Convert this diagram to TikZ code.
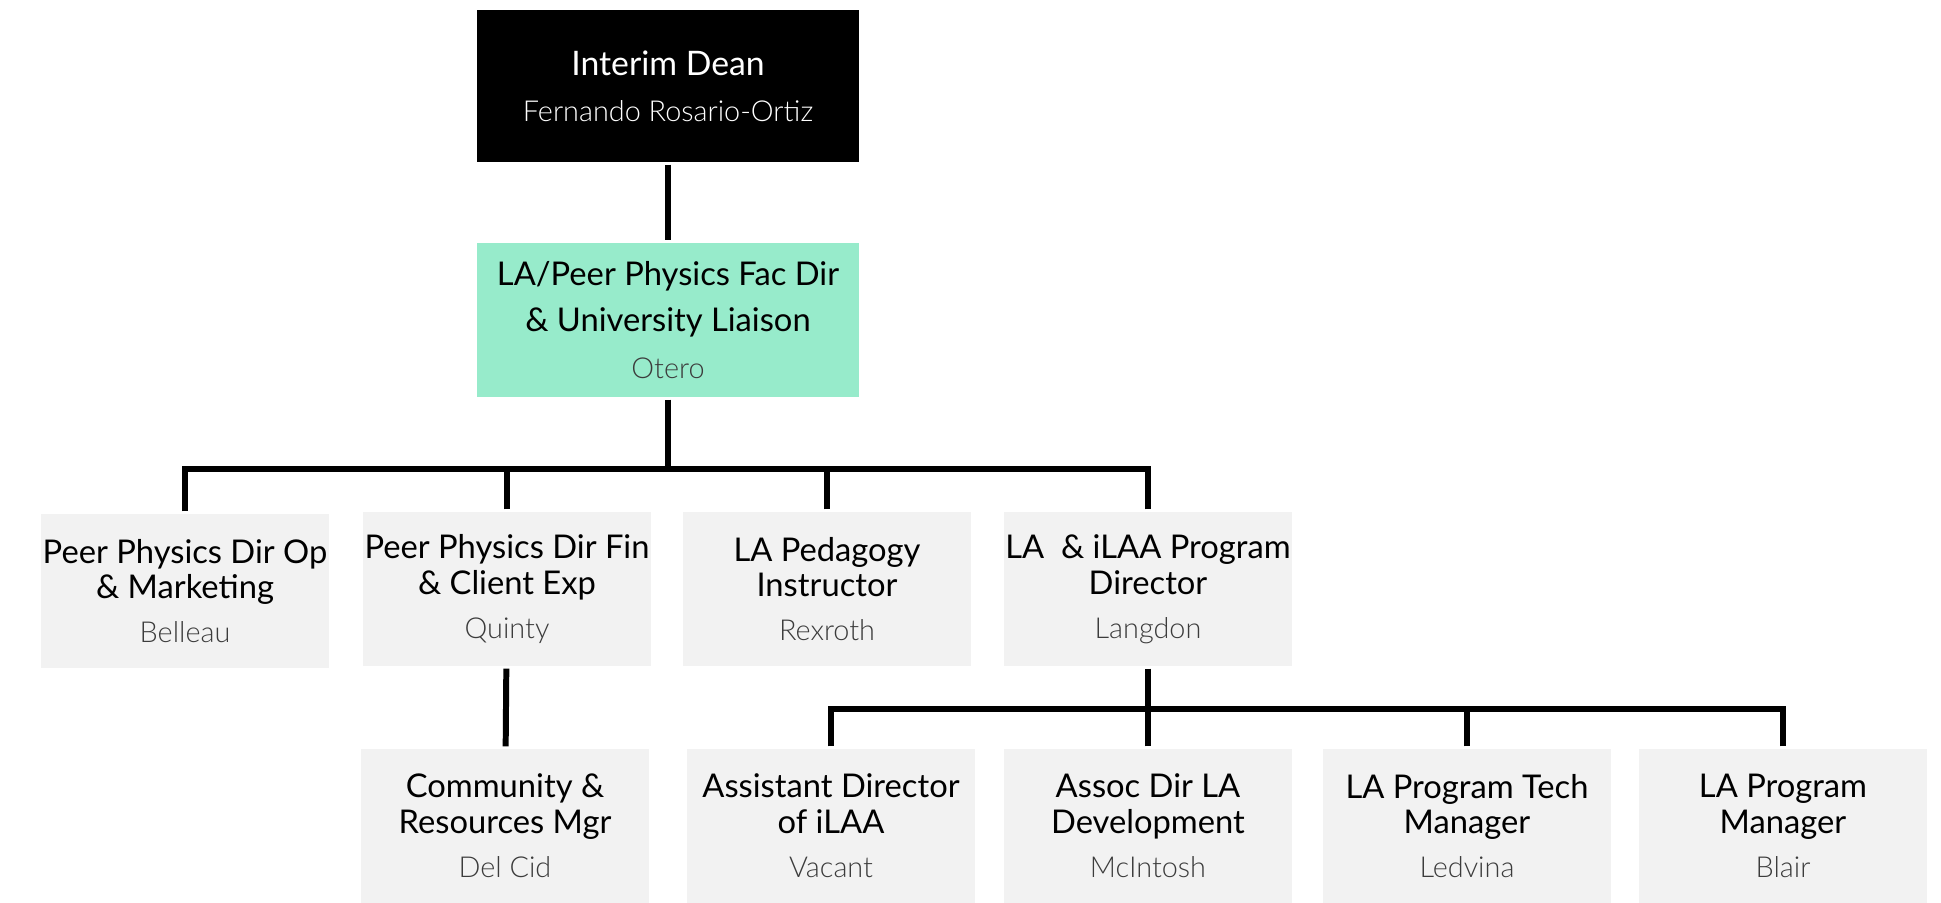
\documentclass[tikz,border=0pt]{standalone}
\usepackage{fontspec}
\setmainfont{Lato}
\newfontfamily\lightfont{Lato Light}
\usetikzlibrary{positioning}
\definecolor{mint}{RGB}{151,235,203}
\definecolor{boxgray}{RGB}{242,242,242}
\definecolor{namegray}{RGB}{60,60,60}
\newcommand{\who}[2][namegray]{{\lightfont\fontsize{8.2}{10.2}\selectfont\color{#1}#2}}

\begin{document}
\begin{tikzpicture}[x=0.01cm, y=-0.01cm, line width=1.7pt,
  unit/.style={rectangle, fill=boxgray, minimum width=2.87cm, minimum height=1.53cm, align=center, inner sep=0pt,
    font=\fontsize{9.3}{10.2}\selectfont}]
\useasboundingbox (0,0) rectangle (1941,903);
% top of the chart
\node[unit, fill=black, text=white, minimum width=3.82cm, minimum height=1.51cm, font=\fontsize{9.6}{13}\selectfont] (dean) at (668,86)
  {Interim Dean\\\who[white]{Fernando Rosario-Ortiz}};
\node[unit, fill=mint, minimum width=3.82cm, font=\fontsize{9.3}{13.2}\selectfont] (fac) at (668,320)
  {LA/Peer Physics Fac Dir\\\& University Liaison\\\who{Otero}};
% second row
\node[unit] (belleau) at (185,591) {Peer Physics Dir Op\\\& Marketing\\[2.3pt]\who{Belleau}};
\node[unit] (quinty) at (507,589) {Peer Physics Dir Fin\\\& Client Exp\\[2.3pt]\who{Quinty}};
\node[unit] (rexroth) at (827,589) {LA Pedagogy\\Instructor\\[2.3pt]\who{Rexroth}};
\node[unit] (langdon) at (1148,589) {LA\ \ \& iLAA Program\\Director\\[2.3pt]\who{Langdon}};
% third row
\node[unit] (delcid) at (505,826) {Community \&\\Resources Mgr\\[2.3pt]\who{Del Cid}};
\node[unit] (vacant) at (831,826) {Assistant Director\\of iLAA\\[2.3pt]\who{Vacant}};
\node[unit] (mcintosh) at (1148,826) {Assoc Dir LA\\Development\\[2.3pt]\who{McIntosh}};
\node[unit] (ledvina) at (1467,826) {LA Program Tech\\Manager\\[2.3pt]\who{Ledvina}};
\node[unit] (blair) at (1783,826) {LA Program\\Manager\\[2.3pt]\who{Blair}};
% connectors
\coordinate (bus1) at (668,469);
\coordinate (bus2) at (1148,709);
\draw (dean) -- (fac);
\draw (fac) -- (bus1);
\foreach \n in {belleau,quinty,rexroth,langdon}
  \draw (\n.north) |- (bus1);
\draw (quinty) -- (delcid);
\draw (langdon) -- (bus2);
\foreach \n in {vacant,mcintosh,ledvina,blair}
  \draw (\n.north) |- (bus2);
\end{tikzpicture}
\end{document}
